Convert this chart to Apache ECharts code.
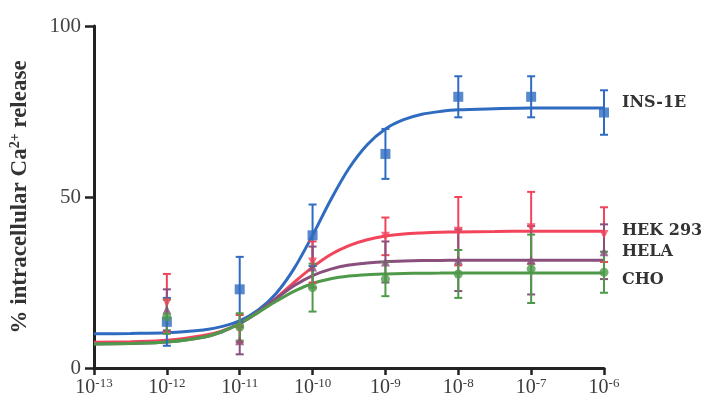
<!DOCTYPE html>
<html>
<head>
<meta charset="utf-8">
<script src="https://cdn.jsdelivr.net/npm/echarts@6/dist/echarts.min.js"></script>
<style>
html,body{margin:0;padding:0;background:#fff;}
#chart{width:709px;height:406px;}
</style>
</head>
<body>
<div id="chart"></div>
<script>
// log10 of concentration (M)
const doses = [-12, -11, -10, -9, -8, -7, -6];
const insMean  = [13.5, 23, 38.8, 62.6, 79.3, 79.3, 74.7];
const insErr   = [7, 9.5, 9, 7.3, 6, 6, 6.5];
const hekMean  = [19, 11.5, 31, 38.5, 40, 41, 39];
const hekErr   = [8.5, 4, 6, 5.5, 10, 10.5, 8];
const helaMean = [17, 8, 29.5, 31, 31.5, 31.5, 34];
const helaErr  = [6, 4, 6, 6, 9, 10, 8];
const choMean  = [15, 12, 23.5, 26, 27.5, 29, 28];
const choErr   = [5, 4, 7, 5, 7, 10, 6];

// fitted curves
const curveX    = [-13, -12.5, -12, -11.5, -11.25, -11, -10.75, -10.5, -10.25, -10, -9.75, -9.5, -9.25, -9, -8.75, -8.5, -8.25, -8, -7.5, -7, -6];
const insCurve  = [10, 10.1, 10.3, 11.1, 12.1, 13.8, 16.9, 21.8, 29.2, 38.8, 49.2, 58.4, 65.3, 69.9, 72.6, 74.2, 75.0, 75.5, 75.8, 76, 76];
const hekCurve  = [7.5, 7.7, 8.1, 9.5, 10.8, 13, 16.2, 20.4, 25.1, 29.5, 33.2, 35.8, 37.5, 38.6, 39.2, 39.5, 39.7, 39.8, 39.9, 40, 40];
const helaCurve = [7, 7.2, 7.6, 9, 10.5, 13, 16.4, 20.3, 24.1, 27, 28.9, 30.1, 30.7, 31.1, 31.3, 31.4, 31.45, 31.5, 31.5, 31.5, 31.5];
const choCurve  = [7, 7.2, 7.6, 9, 10.6, 13, 16.2, 19.5, 22.5, 24.7, 26.1, 26.9, 27.3, 27.5, 27.65, 27.7, 27.75, 27.8, 27.8, 27.8, 27.8];

const names = ['INS-1E', 'HEK 293', 'HELA', 'CHO'];
const yTicks = [0, 50, 100];
const xTicks = [-13, -12, -11, -10, -9, -8, -7, -6];

const colors = ['#2f6bc0', '#f2455c', '#8a4f7c', '#4f9a4a'];
const symbols = ['rect', 'path://M0,0 L10,0 L5,9 Z', 'triangle', 'circle'];
const symbolSizes = [10, 9, 9, 9];
const labelOffsets = [[10, -5], [10, 0], [10, -8], [10, 7]];

const means = [insMean, hekMean, helaMean, choMean];
const errs = [insErr, hekErr, helaErr, choErr];
const curves = [insCurve, hekCurve, helaCurve, choCurve];

const serif = '"Liberation Serif", "DejaVu Serif", serif';

const series = [];
names.forEach((n, i) => {
  series.push({
    name: n + ' fit',
    type: 'line',
    data: curveX.map((x, k) => [x, curves[i][k]]),
    smooth: 0.3,
    showSymbol: false,
    symbol: 'none',
    lineStyle: { color: colors[i], width: 3 },
    z: 2,
    endLabel: {
      show: true,
      formatter: () => n,
      offset: labelOffsets[i],
      fontFamily: '"DejaVu Serif", serif',
      fontWeight: 'bold',
      fontSize: 16,
      color: '#333'
    },
    silent: true
  });
  series.push({
    name: n + ' err',
    type: 'custom',
    data: doses.map((x, k) => [x, means[i][k], errs[i][k]]),
    renderItem: function (params, api) {
      const x = api.value(0), m = api.value(1), e = api.value(2);
      const top = api.coord([x, m + e]);
      const bot = api.coord([x, m - e]);
      const c = colors[i];
      const hw = 4;
      return {
        type: 'group',
        children: [
          { type: 'line', shape: { x1: top[0], y1: top[1], x2: bot[0], y2: bot[1] }, style: { stroke: c, lineWidth: 2 } },
          { type: 'line', shape: { x1: top[0] - hw, y1: top[1], x2: top[0] + hw, y2: top[1] }, style: { stroke: c, lineWidth: 2 } },
          { type: 'line', shape: { x1: bot[0] - hw, y1: bot[1], x2: bot[0] + hw, y2: bot[1] }, style: { stroke: c, lineWidth: 2 } }
        ]
      };
    },
    z: 3,
    silent: true
  });
  series.push({
    name: n,
    type: 'scatter',
    data: doses.map((x, k) => [x, means[i][k]]),
    symbol: symbols[i],
    symbolSize: symbolSizes[i],
    itemStyle: { color: colors[i] },
    z: 4,
    silent: true
  });
});

const chart = echarts.init(document.getElementById('chart'));
chart.setOption({
  animation: false,
  backgroundColor: '#fff',
  grid: { left: 93, right: 105, top: 26, bottom: 38, containLabel: false },
  xAxis: {
    type: 'value',
    min: xTicks[0],
    max: xTicks[xTicks.length - 1],
    interval: 1,
    axisLine: { show: true, lineStyle: { color: '#222', width: 3 } },
    axisTick: { show: true, length: 7, lineStyle: { color: '#222', width: 2.5 } },
    splitLine: { show: false },
    axisLabel: {
      margin: 9,
      formatter: v => '{b|10}{s|-' + Math.abs(v) + '}',
      rich: {
        b: { fontFamily: serif, fontSize: 20, color: '#3a3a3a' },
        s: { fontFamily: serif, fontSize: 13, color: '#3a3a3a', padding: [0, 0, 8, 0] }
      }
    }
  },
  yAxis: {
    type: 'value',
    min: yTicks[0],
    max: yTicks[yTicks.length - 1],
    interval: 50,
    axisLine: { show: true, lineStyle: { color: '#222', width: 3 } },
    axisTick: { show: true, length: 9, lineStyle: { color: '#222', width: 2.5 } },
    splitLine: { show: false },
    axisLabel: { fontFamily: serif, fontSize: 21, color: '#444', margin: 13 },
    name: '{t|% intracellular Ca}{sup|2+}{t| release}',
    nameLocation: 'middle',
    nameGap: 62,
    nameRotate: 90,
    nameTextStyle: {
      rich: {
        t: { fontFamily: serif, fontWeight: 'bold', fontSize: 23, color: '#333' },
        sup: { fontFamily: serif, fontWeight: 'bold', fontSize: 14, color: '#333', padding: [0, 0, 10, 0] }
      }
    }
  },
  series: series
});
</script>
</body>
</html>
